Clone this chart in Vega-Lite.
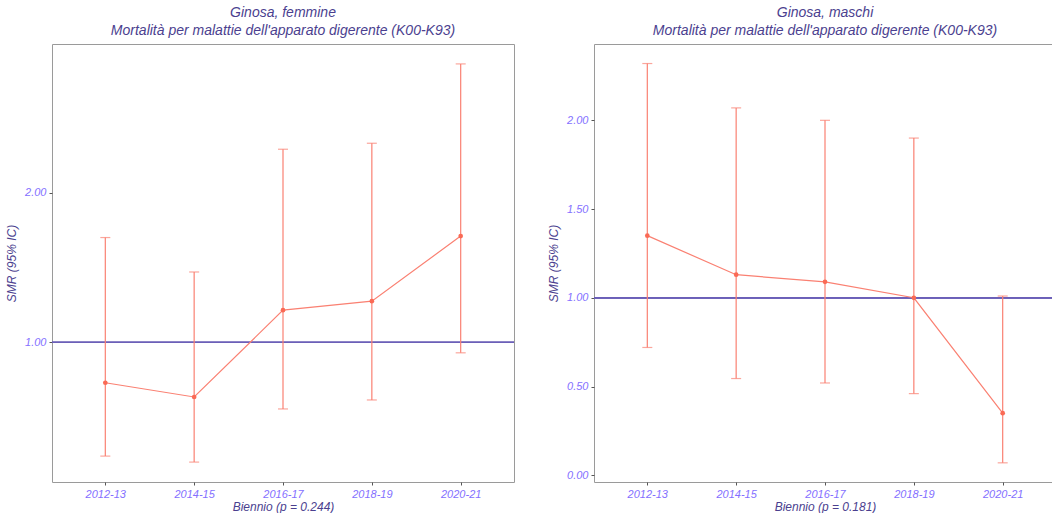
{
  "$schema": "https://vega.github.io/schema/vega-lite/v6.json",
  "background": "white",
  "padding": {"left": 5, "top": 5, "right": 0, "bottom": 0},
  "spacing": 31,
  "config": {
    "font": "Liberation Sans",
    "view": {"stroke": "#9a9a9a", "strokeWidth": 1},
    "title": {"font": "Liberation Sans", "fontStyle": "italic", "fontWeight": "normal", "fontSize": 14, "color": "#4B3F8F", "anchor": "middle", "offset": 6, "lineHeight": 18},
    "axis": {
      "grid": false,
      "domain": false,
      "labelFont": "Liberation Sans",
      "labelFontStyle": "italic",
      "labelFontSize": 11,
      "labelColor": "#8470FF",
      "titleFont": "Liberation Sans",
      "titleFontStyle": "italic",
      "titleFontWeight": "normal",
      "titleFontSize": 12,
      "titleColor": "#4B3F8F",
      "tickColor": "#555555",
      "tickSize": 3,
      "labelPadding": 3
    }
  },
  "data": {
    "values": [
      {"sesso": "femmine", "biennio": "2012-13", "smr": 0.73, "lo": 0.24, "hi": 1.70},
      {"sesso": "femmine", "biennio": "2014-15", "smr": 0.635, "lo": 0.20, "hi": 1.47},
      {"sesso": "femmine", "biennio": "2016-17", "smr": 1.215, "lo": 0.555, "hi": 2.29},
      {"sesso": "femmine", "biennio": "2018-19", "smr": 1.275, "lo": 0.615, "hi": 2.33},
      {"sesso": "femmine", "biennio": "2020-21", "smr": 1.71, "lo": 0.93, "hi": 2.86},
      {"sesso": "maschi", "biennio": "2012-13", "smr": 1.35, "lo": 0.72, "hi": 2.32},
      {"sesso": "maschi", "biennio": "2014-15", "smr": 1.13, "lo": 0.545, "hi": 2.07},
      {"sesso": "maschi", "biennio": "2016-17", "smr": 1.09, "lo": 0.52, "hi": 2.00},
      {"sesso": "maschi", "biennio": "2018-19", "smr": 1.00, "lo": 0.46, "hi": 1.90},
      {"sesso": "maschi", "biennio": "2020-21", "smr": 0.35, "lo": 0.07, "hi": 1.01}
    ]
  },
  "hconcat": [
    {
      "title": {"text": ["Ginosa, femmine", "Mortalità per malattie dell'apparato digerente (K00-K93)"]},
      "width": 462,
      "height": 438,
      "transform": [{"filter": "datum.sesso === 'femmine'"}],
      "encoding": {
        "x": {"field": "biennio", "type": "ordinal", "scale": {"type": "point", "padding": 0.6}, "axis": {"title": "Biennio (p = 0.244)", "labelAngle": 0, "titlePadding": 2}}
      },
      "layer": [
        {
          "mark": {"type": "rule", "color": "#6B5FB8", "strokeWidth": 1.2},
          "encoding": {"y": {"datum": 1}, "x": null}
        },
        {
          "mark": {"type": "rule", "color": "#FA8072", "strokeWidth": 1.2},
          "encoding": {
            "y": {"field": "lo", "type": "quantitative", "scale": {"domain": [0.067, 2.993], "nice": false, "zero": false}, "axis": {"title": "SMR (95% IC)", "values": [1, 2], "format": ".2f", "titlePadding": 6}},
            "y2": {"field": "hi"}
          }
        },
        {
          "mark": {"type": "tick", "color": "#FA8072", "thickness": 1.2, "size": 10, "orient": "horizontal"},
          "encoding": {"y": {"field": "lo", "type": "quantitative"}}
        },
        {
          "mark": {"type": "tick", "color": "#FA8072", "thickness": 1.2, "size": 10, "orient": "horizontal"},
          "encoding": {"y": {"field": "hi", "type": "quantitative"}}
        },
        {
          "mark": {"type": "line", "color": "#FA8072", "strokeWidth": 1.2, "point": {"filled": true, "size": 22, "color": "#FA6A55"}},
          "encoding": {"y": {"field": "smr", "type": "quantitative"}}
        }
      ]
    },
    {
      "title": {"text": ["Ginosa, maschi", "Mortalità per malattie dell'apparato digerente (K00-K93)"]},
      "width": 462,
      "height": 438,
      "transform": [{"filter": "datum.sesso === 'maschi'"}],
      "encoding": {
        "x": {"field": "biennio", "type": "ordinal", "scale": {"type": "point", "padding": 0.6}, "axis": {"title": "Biennio (p = 0.181)", "labelAngle": 0, "titlePadding": 2}}
      },
      "layer": [
        {
          "mark": {"type": "rule", "color": "#6B5FB8", "strokeWidth": 1.2},
          "encoding": {"y": {"datum": 1}, "x": null}
        },
        {
          "mark": {"type": "rule", "color": "#FA8072", "strokeWidth": 1.2},
          "encoding": {
            "y": {"field": "lo", "type": "quantitative", "scale": {"domain": [-0.038, 2.43], "nice": false, "zero": false}, "axis": {"title": "SMR (95% IC)", "values": [0, 0.5, 1, 1.5, 2], "format": ".2f", "titlePadding": 6}},
            "y2": {"field": "hi"}
          }
        },
        {
          "mark": {"type": "tick", "color": "#FA8072", "thickness": 1.2, "size": 10, "orient": "horizontal"},
          "encoding": {"y": {"field": "lo", "type": "quantitative"}}
        },
        {
          "mark": {"type": "tick", "color": "#FA8072", "thickness": 1.2, "size": 10, "orient": "horizontal"},
          "encoding": {"y": {"field": "hi", "type": "quantitative"}}
        },
        {
          "mark": {"type": "line", "color": "#FA8072", "strokeWidth": 1.2, "point": {"filled": true, "size": 22, "color": "#FA6A55"}},
          "encoding": {"y": {"field": "smr", "type": "quantitative"}}
        }
      ]
    }
  ],
  "resolve": {"scale": {"y": "independent"}}
}
